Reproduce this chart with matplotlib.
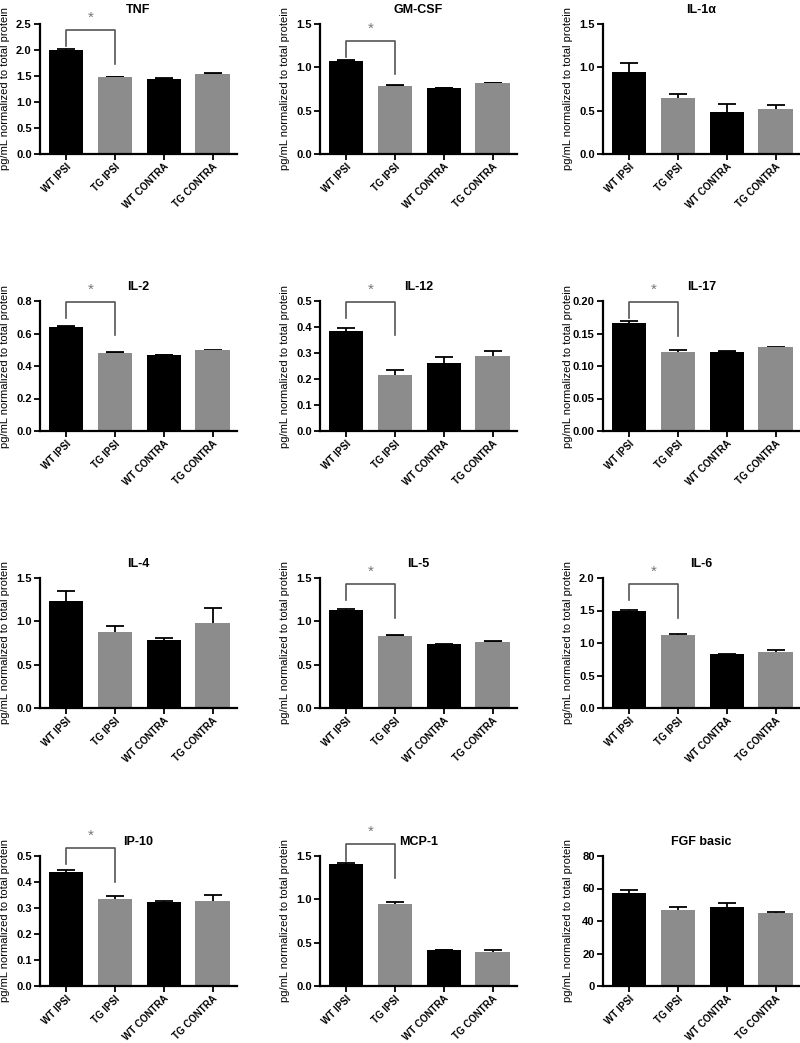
import matplotlib
matplotlib.use('Agg')
import matplotlib.pyplot as plt
import matplotlib.transforms as mtransforms
import numpy as np

plt.rcParams['font.family'] = ['Liberation Sans', 'DejaVu Sans']
plt.rcParams['font.weight'] = 'bold'

# Data
panels = ['TNF', 'GM-CSF', 'IL-1α',
          'IL-2', 'IL-12', 'IL-17',
          'IL-4', 'IL-5', 'IL-6',
          'IP-10', 'MCP-1', 'FGF basic']
groups = ['WT IPSI', 'TG IPSI', 'WT CONTRA', 'TG CONTRA']

means = [
    [2.00, 1.48, 1.45, 1.54],
    [1.077, 0.79, 0.76, 0.82],
    [0.946, 0.646, 0.48, 0.52],
    [0.642, 0.482, 0.468, 0.498],
    [0.386, 0.217, 0.260, 0.287],
    [0.1668, 0.1223, 0.1218, 0.129],
    [1.24, 0.878, 0.786, 0.985],
    [1.134, 0.836, 0.733, 0.767],
    [1.49, 1.117, 0.827, 0.867],
    [0.4375, 0.334, 0.324, 0.327],
    [1.406, 0.95, 0.414, 0.391],
    [57.3, 46.6, 48.8, 45.1],
]
errors = [
    [0.01, 0.005, 0.008, 0.01],
    [0.006, 0.004, 0.004, 0.004],
    [0.104, 0.05, 0.096, 0.05],
    [0.004, 0.003, 0.002, 0.003],
    [0.012, 0.019, 0.024, 0.019],
    [0.003, 0.0026, 0.001, 0.001],
    [0.107, 0.069, 0.027, 0.172],
    [0.011, 0.003, 0.003, 0.01],
    [0.015, 0.025, 0.01, 0.026],
    [0.009, 0.012, 0.003, 0.024],
    [0.019, 0.016, 0.004, 0.023],
    [1.8, 1.8, 2.4, 0.6],
]
y_max = [2.5, 1.5, 1.5, 0.8, 0.5, 0.20, 1.5, 1.5, 2.0, 0.5, 1.5, 80]
y_step = [0.5, 0.5, 0.5, 0.2, 0.1, 0.05, 0.5, 0.5, 0.5, 0.1, 0.5, 20]
y_fmt = ['%.1f'] * 5 + ['%.2f'] + ['%.1f'] * 5 + ['%d']
# significance bracket height (axes fraction), None = no bracket
bracket_top = [0.953, 0.872, None, 0.995, 0.995, 0.992,
               None, 0.954, 0.954, 1.06, 1.09, None]

bar_colors = ['black', '#8c8c8c', 'black', '#8c8c8c']

fig = plt.figure(figsize=(8, 10.43), dpi=100)
W, H = 800, 1043
col_left = [40, 320, 603]
row_top = [24, 301, 578, 856]
aw, ah = 197, 130

x = np.arange(len(groups))
for i, name in enumerate(panels):
    r, c = divmod(i, 3)
    ax = fig.add_axes([col_left[c] / W, 1 - (row_top[r] + ah) / H, aw / W, ah / H])

    # error bars behind the bars so only the upper half shows
    ax.errorbar(x, means[i], yerr=errors[i], fmt='none', ecolor='black',
                elinewidth=1.3, capsize=6.5, capthick=1.3, zorder=1)
    ax.bar(x, means[i], width=0.7, color=bar_colors, zorder=2)

    ax.set_xlim(-0.53, 3.5)
    ax.set_ylim(0, y_max[i])
    ax.set_yticks(np.arange(0, y_max[i] + y_step[i] / 2, y_step[i]))
    ax.yaxis.set_major_formatter(matplotlib.ticker.FormatStrFormatter(y_fmt[i]))
    ax.set_xticks(x)
    ax.set_xticklabels(groups, rotation=45, ha='right', rotation_mode='anchor')

    for s in ['top', 'right']:
        ax.spines[s].set_visible(False)
    for s in ['left', 'bottom']:
        ax.spines[s].set_linewidth(1.6)
    ax.tick_params(axis='both', direction='out', length=4, width=1.3, pad=2)
    ax.tick_params(axis='x', labelsize=7, pad=1.5)
    ax.tick_params(axis='y', labelsize=8)

    ax.set_title(name, fontsize=9, fontweight='bold', pad=8)
    ax.set_ylabel('pg/mL normalized to total protein', fontsize=8,
                  fontweight='normal')
    ax.yaxis.set_label_coords(-0.15, 0.5)

    if bracket_top[i] is not None:
        trans = mtransforms.blended_transform_factory(ax.transData, ax.transAxes)
        top = bracket_top[i]
        ax.plot([0, 0, 1, 1], [top - 0.125, top, top, top - 0.26],
                transform=trans, color='#555555', lw=1.2, clip_on=False)
        ax.text(0.5, top + 0.04, '*', transform=trans, ha='center',
                va='bottom', color='#777777', fontsize=11, fontweight='normal')

plt.savefig('out.png', dpi=100)
